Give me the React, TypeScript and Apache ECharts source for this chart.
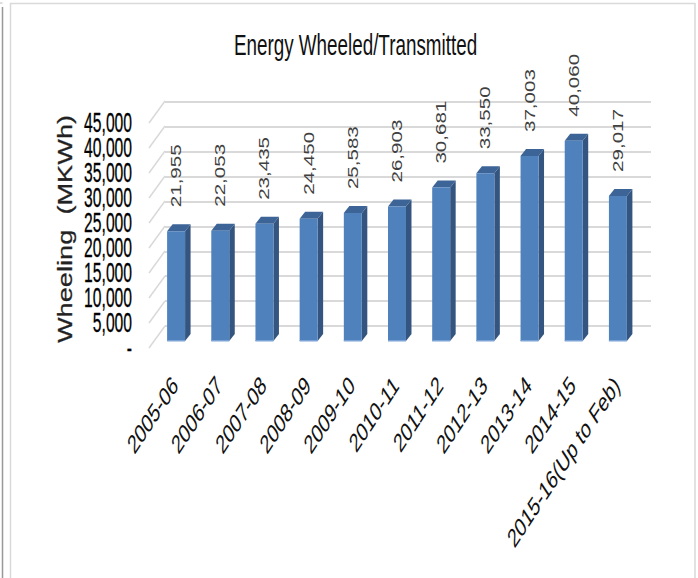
import React, { useEffect, useRef } from "react";
import * as echarts from "echarts";

const categories = ["2005-06","2006-07","2007-08","2008-09","2009-10","2010-11","2011-12","2012-13","2013-14","2014-15","2015-16(Up to Feb)"];
const wheeling = [21955,22053,23435,24450,25583,26903,30681,33550,37003,40060,29017];
const yTicks = [0,5000,10000,15000,20000,25000,30000,35000,40000,45000];
const titleText = "Energy Wheeled/Transmitted";
const yTitle = "Wheeling  (MKWh)";
const FONT = "Liberation Sans";
const fmt = (v: number) => (v === 0 ? "-" : v.toLocaleString("en-US"));

function valueAxis(gridIndex: number, showSplit: boolean) {
  return { type: "value", gridIndex, min: 0, max: 45000, interval: 5000,
    axisLine: { show: false }, axisTick: { show: false }, axisLabel: { show: false },
    splitLine: { show: showSplit, lineStyle: { color: "#d9d9d9", width: 2 } } };
}
function catAxis(gridIndex: number) {
  return { type: "category", gridIndex, data: categories, axisLine: { show: false }, axisTick: { show: false }, axisLabel: { show: false } };
}

export default function App() {
  const ref = useRef<HTMLDivElement>(null);
  useEffect(() => {
    const chart = echarts.init(ref.current!, undefined, { renderer: "svg" });
    chart.setOption({
      animation: false,
      backgroundColor: "#fff",
      grid: [
        { left: 165, width: 486, top: 102, height: 224 },
        { left: 149, width: 486, top: 123, height: 225 },
        { left: 154, width: 486, top: 116, height: 225 },
      ],
      xAxis: [catAxis(0), catAxis(1), catAxis(2)],
      yAxis: [valueAxis(0, true), valueAxis(1, false), valueAxis(2, false)],
      series: [
        {
          type: "custom", xAxisIndex: 1, yAxisIndex: 1, clip: false, data: yTicks.map((v) => [0, v]),
          renderItem: (params: any, api: any) => {
            const v = api.value(1);
            const y = api.coord([0, v])[1];
            const x = params.coordSys.x;
            return { type: "group", children: [
              { type: "line", shape: { x1: x, y1: y, x2: x + 16, y2: y - 22 }, style: { stroke: "#d9d9d9", lineWidth: 1.5 } },
              { type: "text", x: x - 17, y, scaleX: 0.58, style: { text: fmt(v), font: `27px ${FONT}`, fill: "#000", stroke: "#000", lineWidth: 0.3, align: "right", verticalAlign: "middle" } },
            ] };
          },
        },
        {
          type: "custom", xAxisIndex: 2, yAxisIndex: 2, clip: false,
          data: wheeling.map((v, i) => [i, v]),
          renderItem: (_p: any, api: any) => {
            const i = api.value(0), v = api.value(1);
            const [cx, top] = api.coord([i, v]);
            const bottom = api.coord([i, 0])[1];
            const w = api.size([1, 0])[0] * 0.407;
            const l = cx - w / 2, r = cx + w / 2, dx = 5.5, dy = 7;
            return { type: "group", children: [
              { type: "polygon", shape: { points: [[r, top], [r + dx, top - dy], [r + dx, bottom - dy], [r, bottom]] }, style: { fill: "#34557f" } },
              { type: "polygon", shape: { points: [[l, top], [l + dx, top - dy], [r + dx, top - dy], [r, top]] }, style: { fill: "#3c6496" } },
              { type: "rect", shape: { x: l, y: top, width: w, height: bottom - top }, style: { fill: "#4f81bd" } },
              { type: "rect", shape: { x: l, y: bottom - 1, width: w, height: 1.5 }, style: { fill: "#7ba3d6" } },
              { type: "text", x: cx, y: top - 24, rotation: Math.PI / 2, scaleX: 1.37, style: { text: v.toLocaleString("en-US"), font: `15px ${FONT}`, fill: "#404040", align: "left", verticalAlign: "middle" } },
            ] };
          },
        },
        {
          type: "custom", xAxisIndex: 2, yAxisIndex: 2, clip: false,
          data: categories.map((_, i) => [i, 0]),
          renderItem: (_p: any, api: any) => {
            const i = api.value(0);
            const cx = api.coord([i, 0])[0];
            return {
              type: "group", x: cx - 1, y: 381, scaleX: 0.96, scaleY: 1.456,
              children: [{ type: "text", rotation: Math.PI / 4, style: { text: categories[i], font: `18px ${FONT}`, fill: "#111", align: "right", verticalAlign: "middle" } }],
            };
          },
        },
      ],
      graphic: [
        { type: "line", shape: { x1: 2.5, y1: 7, x2: 2.5, y2: 578 }, style: { stroke: "#999", lineWidth: 1.5 } },
        { type: "line", shape: { x1: 0, y1: 3, x2: 2.5, y2: 3 }, style: { stroke: "#bbb", lineWidth: 1 } },
        { type: "polyline", shape: { points: [[10.5, 578], [10.5, 3.5], [695, 3.5], [695, 578]] }, style: { stroke: "#d9d9d9", lineWidth: 1.5, fill: "none" } },
        { type: "text", x: 355.5, y: 45, scaleX: 0.65, style: { text: titleText, font: `29px ${FONT}`, fill: "#111", align: "center", verticalAlign: "middle" } },
        { type: "text", x: 65, y: 229, rotation: Math.PI / 2, scaleX: 1.36, style: { text: yTitle, font: `20px ${FONT}`, fill: "#222", stroke: "#222", lineWidth: 0.25, align: "center", verticalAlign: "middle" } },
      ],
    });
    return () => chart.dispose();
  }, []);
  return <div ref={ref} style={{ position: "fixed", left: 0, top: 0, width: 698, height: 578 }} />;
}
